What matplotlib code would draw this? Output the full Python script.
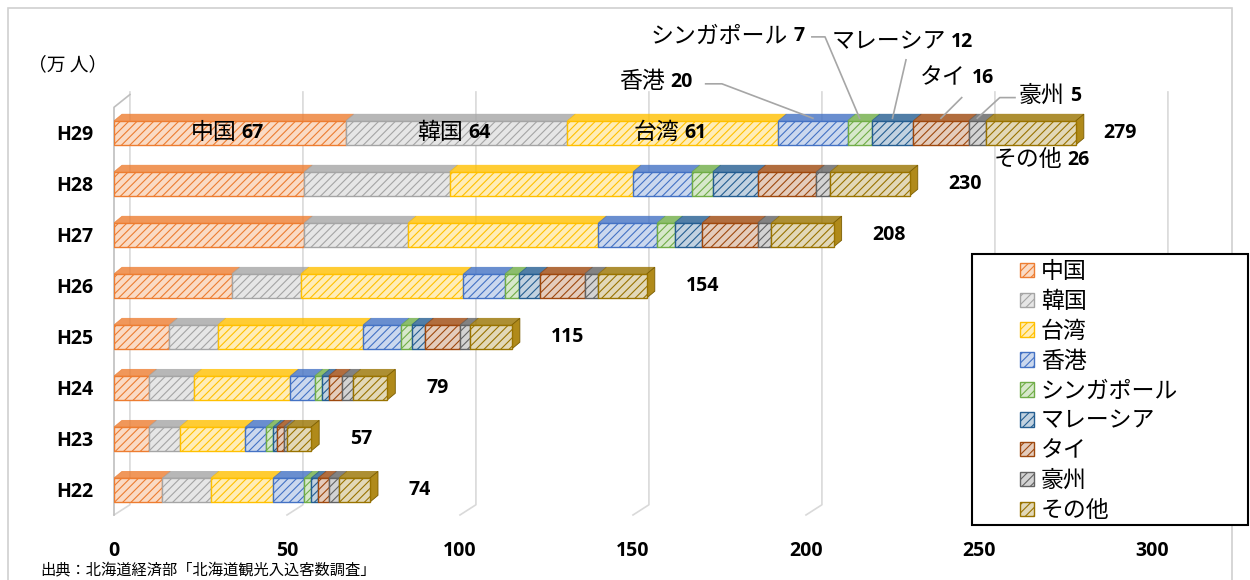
import matplotlib.pyplot as plt
import numpy as np
from matplotlib.patches import Polygon, Rectangle
from matplotlib.colors import to_rgb

plt.rcParams['font.family'] = ['Noto Sans CJK JP', 'DejaVu Sans']
plt.rcParams['hatch.linewidth'] = 0.8

# 外国人来道者数（万人）
years = ['H22', 'H23', 'H24', 'H25', 'H26', 'H27', 'H28', 'H29']
countries = ['中国', '韓国', '台湾', '香港', 'シンガポール', 'マレーシア', 'タイ', '豪州', 'その他']
china = [14, 10, 10, 16, 34, 55, 55, 67]
korea = [14, 9, 13, 14, 20, 30, 42, 64]
taiwan = [18, 19, 28, 42, 47, 55, 53, 61]
hongkong = [9, 6, 7, 11, 12, 17, 17, 20]
singapore = [2, 2, 2, 3, 4, 5, 6, 7]
malaysia = [2, 1, 2, 4, 6, 8, 13, 12]
thailand = [3, 2, 4, 10, 13, 16, 17, 16]
australia = [3, 1, 3, 3, 4, 4, 4, 5]
others = [9, 7, 10, 12, 14, 18, 23, 26]
totals = [74, 57, 79, 115, 154, 208, 230, 279]
colors = ['#ED7D31', '#A5A5A5', '#FFC000', '#4472C4', '#70AD47',
          '#255E91', '#9E480E', '#636363', '#997300']

series = [china, korea, taiwan, hongkong, singapore, malaysia, thailand, australia, others]
num_font = 'Open Sans'


def light(c, k=0.72):
    r, g, b = to_rgb(c)
    return (r + (1 - r) * k, g + (1 - g) * k, b + (1 - b) * k)


fig = plt.figure(figsize=(12.5, 5.8), dpi=100)
ax = fig.add_axes([0.0912, 0.1121, 0.8304, 0.7293])

y = np.arange(len(years))
h = 0.47
dx, dy = 2.3, 0.13      # 3D depth of bars
gx, gy = 4.6, 0.2       # depth of back wall
yb, yt = -0.49, 7.8
ticks = [0, 50, 100, 150, 200, 250, 300]

# back wall gridlines
for t in ticks:
    ax.plot([t, t + gx, t + gx], [yb, yb + gy, yt], color='#D9D9D9', lw=1.2,
            zorder=1, clip_on=False)
ax.plot([0, 0, gx], [yb, yt - 0.3, yt - 0.05], color='#BFBFBF', lw=1.2, zorder=1, clip_on=False)

left = np.zeros(len(years))
bars = []
for name, vals, c in zip(countries, series, colors):
    vals = np.array(vals, float)
    b = ax.barh(y, vals, h, left=left, color=light(c), edgecolor=c, hatch='////',
                linewidth=1.0, label=name, zorder=3)
    bars.append(b)
    for yi, l, v in zip(y, left, vals):
        top = yi + h / 2
        ax.add_patch(Polygon([(l, top), (l + dx, top + dy), (l + v + dx, top + dy), (l + v, top)],
                             closed=True, facecolor=c, edgecolor=c, alpha=0.8, lw=0.5, zorder=2))
    left += vals

for yi, l in zip(y, left):
    ax.add_patch(Polygon([(l, yi - h / 2), (l + dx, yi - h / 2 + dy), (l + dx, yi + h / 2 + dy),
                          (l, yi + h / 2)], closed=True, facecolor='#B08A1A', edgecolor='#7A5C00',
                         lw=0.6, zorder=2))

# totals
for i, tot in enumerate(totals):
    pad = 20 if i == len(years) - 1 else 28
    ax.annotate(str(tot), (left[i], y[i]), xytext=(pad, 0), textcoords='offset points',
                va='center', ha='left', fontsize=14, fontweight='bold', family=num_font)


def tag(x, yv, name, num):
    ax.annotate(name, (x, yv), xytext=(-1.5, 0), textcoords='offset points', ha='right',
                va='center', fontsize=16.5, annotation_clip=False)
    ax.annotate(num, (x, yv), xytext=(2.5, 0), textcoords='offset points', ha='left',
                va='center', fontsize=14, fontweight='bold', family=num_font, annotation_clip=False)


# labels of H29 segments
last = len(years) - 1
starts = np.cumsum([0] + [s[last] for s in series[:-1]])
centers = starts + np.array([s[last] for s in series]) / 2
for k in range(3):
    tag(centers[k] + 2.4, y[last], countries[k], str(series[k][last]))

outside = [
    (3, (159.8, 8.0), [(171, 7.96), (175.7, 7.96)]),
    (4, (195.4, 8.9), [(201.7, 8.88), (205.5, 8.88)]),
    (5, (241.0, 8.78), [(228.9, 8.43)]),
    (6, (246.8, 8.08), [(245.0, 7.69)]),
    (7, (275.4, 7.73), [(260.4, 7.69), (256.0, 7.69)]),
    (8, (274.6, 6.47), []),
]
for k, (tx, ty), path in outside:
    tag(tx, ty, countries[k], str(series[k][last]))
    if path:
        xs = [p[0] for p in path] + [centers[k]]
        ys = [p[1] for p in path] + [y[last] + h / 2 + 0.05]
        ax.plot(xs, ys, color='#A6A6A6', lw=1.2, zorder=5, clip_on=False)

ax.set_xlim(0, 300)
ax.set_ylim(yb, yt)
ax.set_xticks(ticks)
ax.set_yticks(y)
ax.set_yticklabels(years)
ax.tick_params(length=0, labelsize=14)
ax.tick_params(axis='x', pad=19)
ax.tick_params(axis='y', pad=15)
for lab in ax.get_xticklabels() + ax.get_yticklabels():
    lab.set_fontweight('bold')
    lab.set_family(num_font)
for s in ax.spines.values():
    s.set_visible(False)
ax.patch.set_alpha(0)

fig.text(28 / 1250, 1 - 65 / 580, '（万 人）', fontsize=13.5, va='center', ha='left')
fig.text(40 / 1250, 1 - 570 / 580, '出典：北海道経済部「北海道観光入込客数調査」', fontsize=11,
         va='center', ha='left')

# outer frame
fig.add_artist(Rectangle((8 / 1250, -0.05), 1224 / 1250, 1.05 - 8 / 580, transform=fig.transFigure,
                         fill=False, edgecolor='#D0D0D0', lw=1.2, zorder=0))

# legend
fig.add_artist(Rectangle((972 / 1250, 1 - 525 / 580), 276 / 1250, 271 / 580, transform=fig.transFigure,
                         facecolor='white', edgecolor='black', lw=1.5, zorder=4))
leg = fig.legend(handles=bars, loc='upper left', bbox_to_anchor=(1004 / 1250, 1 - 244 / 580),
                 bbox_transform=fig.transFigure, frameon=False, fontsize=16.5, handlelength=0.6,
                 handleheight=0.6, handletextpad=0.3, labelspacing=0.3, borderpad=0.2)
leg.set_zorder(6)

fig.savefig('out.png', dpi=100)
